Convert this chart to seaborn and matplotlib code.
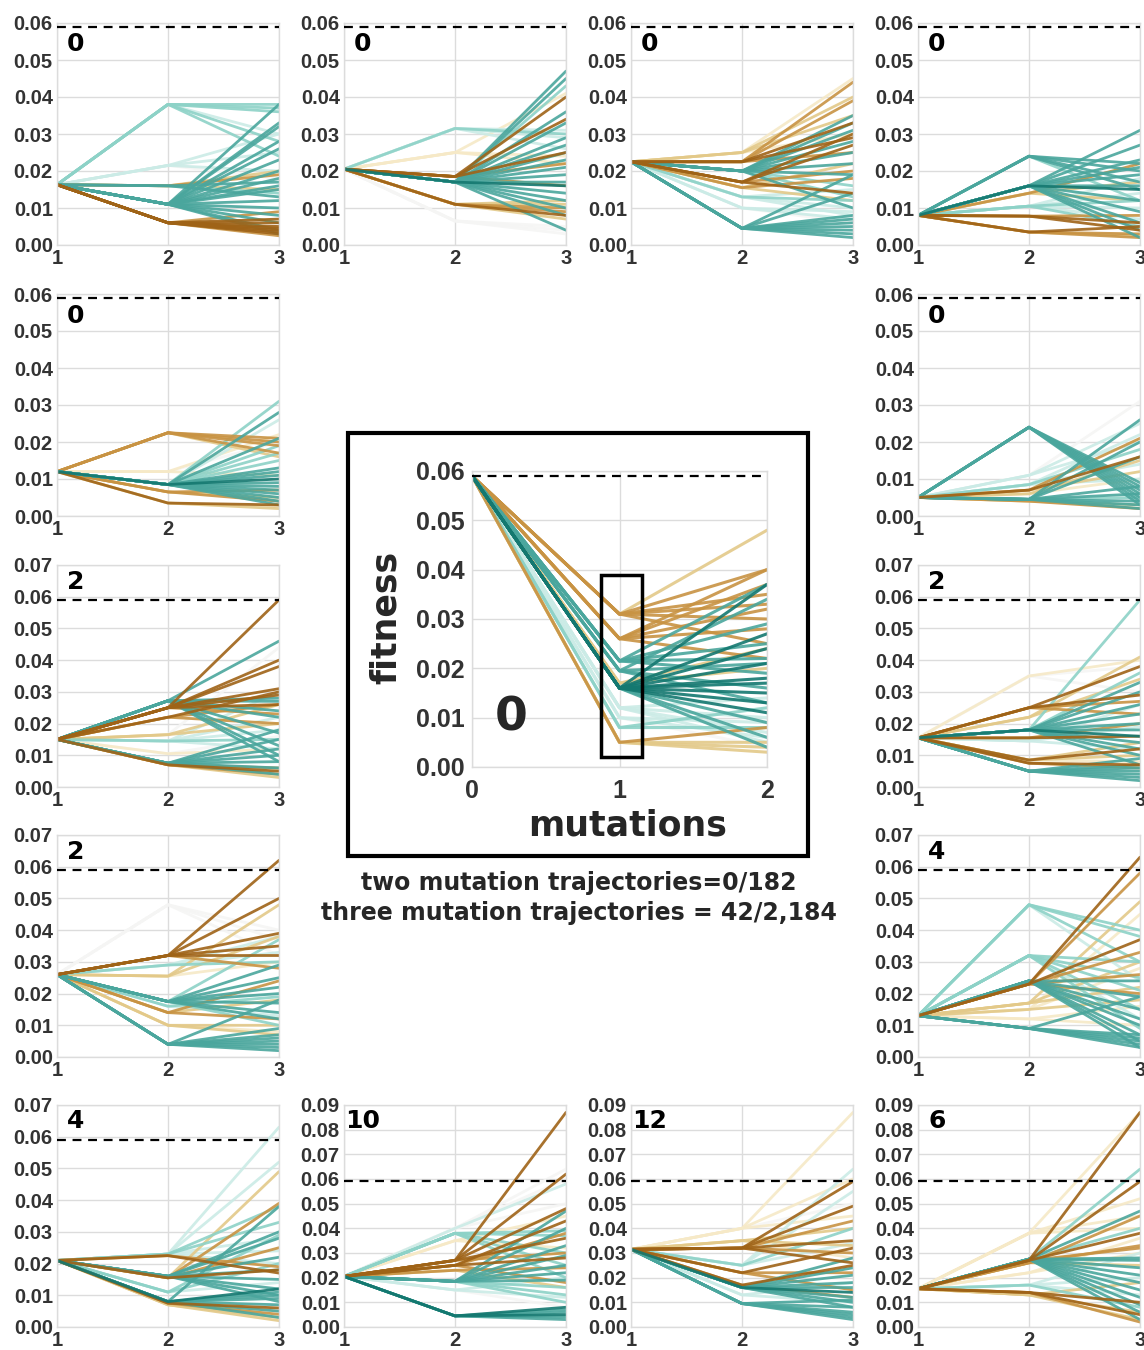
import matplotlib
matplotlib.use("Agg")
import numpy as np
import pandas as pd
import matplotlib.pyplot as plt
import seaborn as sns
from matplotlib.patches import Rectangle

# ---------------- data (fitness after 1, 2, 3 mutations; colour code on BrBG) ----------------
A_start = 0.0163
A_mid = [0.038,0.038,0.038,0.038,0.038,0.038, 0.0215,0.0215,0.0215,0.0215,
         0.016,0.016,0.016,0.016,0.016,0.016,
         0.011,0.011,0.011,0.011,0.011,0.011,0.011,0.011,0.011,0.011,0.011,0.011,0.011,0.011,0.011,0.011,
         0.006,0.006,0.006,0.006,0.006,0.006,0.006,0.006,0.006]
A_end = [0.038,0.037,0.036,0.028,0.024,0.030, 0.030,0.025,0.020,0.018,
         0.020,0.019,0.015,0.013,0.014,0.017,
         0.038,0.033,0.032,0.028,0.026,0.023,0.020,0.018,0.016,0.015,0.012,0.010,0.008,0.006,0.004,0.003,
         0.007,0.006,0.005,0.004,0.0045,0.0035,0.003,0.0025,0.009]
A_col = [7,7,7,7,7,6, 6,6,6,5, 3,2,3,8,7,8,
         8,8,8,8,8,8,8,8,8,8,8,8,8,8,8,8,
         1,1,1,1,1,1,1,2,2]

B_start = 0.0205
B_mid = [0.0315,0.0315,0.0315,0.0315, 0.025,0.025,0.025, 0.0185,0.0185,0.0185,0.0185,0.0185,
         0.017,0.017,0.017,0.017,0.017,0.017,0.017,0.017,0.017,0.017,0.017,0.017,0.017,0.017,0.017,0.017,0.017,0.017,
         0.011,0.011,0.011,0.011,0.011,0.011, 0.0065,0.0065,0.0065]
B_end = [0.031,0.030,0.029,0.026, 0.041,0.024,0.022, 0.034,0.040,0.025,0.016,0.022,
         0.047,0.045,0.043,0.036,0.033,0.029,0.027,0.025,0.023,0.021,0.019,0.017,0.016,0.014,0.012,0.010,0.008,0.004,
         0.012,0.010,0.009,0.008,0.007,0.011, 0.005,0.004,0.003]
B_col = [6,7,6,6, 4,4,4, 1,1,1,2,2,
         8,8,7,8,8,8,8,8,8,8,8,8,9,8,8,8,8,8,
         3,2,2,1,3,3, 5,5,5]

C_start = 0.0225
C_mid = [0.025,0.025,0.025,0.025, 0.0225,0.0225,0.0225,0.0225,0.0225, 0.017,0.017,0.017,0.017,
         0.0155,0.0155,0.0155, 0.020,0.020,0.020,0.020,0.020,0.020,0.020,0.020,0.020,0.020,
         0.013,0.013,0.013,0.013, 0.010,0.010,0.010,
         0.0045,0.0045,0.0045,0.0045,0.0045,0.0045,0.0045,0.0045,0.0045]
C_end = [0.045,0.040,0.030,0.035, 0.044,0.039,0.033,0.029,0.025, 0.030,0.027,0.020,0.014,
         0.022,0.018,0.012, 0.035,0.033,0.031,0.028,0.025,0.022,0.019,0.016,0.013,0.010,
         0.015,0.010,0.008,0.012, 0.009,0.007,0.006,
         0.019,0.014,0.008,0.007,0.006,0.005,0.004,0.003,0.002]
C_col = [4,3,4,3, 2,2,1,1,2, 1,1,2,1, 3,2,3, 8,8,8,8,8,8,8,7,7,8,
         6,6,6,7, 6,6,5, 8,8,8,8,8,8,8,8,8]

D_start = 0.008
D_mid = [0.024,0.024,0.024,0.024,0.024,
         0.016,0.016,0.016,0.016,0.016,0.016,0.016,0.016,0.016,0.016,0.016,0.016,
         0.014,0.014,0.014, 0.0105,0.0105,0.0105,0.0105,0.0105,0.0105,
         0.0078,0.0078,0.0078, 0.0035,0.0035,0.0035,0.0035]
D_end = [0.022,0.020,0.017,0.015,0.012,
         0.031,0.027,0.023,0.021,0.019,0.016,0.015,0.012,0.009,0.006,0.004,0.002,
         0.022,0.017,0.012, 0.018,0.014,0.010,0.007,0.005,0.012,
         0.006,0.004,0.008, 0.005,0.003,0.002,0.0025]
D_col = [8,8,8,8,7, 8,8,8,8,8,8,9,8,8,8,8,8, 2,3,3, 6,6,6,6,7,7, 1,1,2, 1,2,2,3]

E_start = 0.012
E_mid = [0.0225,0.0225,0.0225,0.0225,0.0225, 0.012,0.012,0.012,
         0.0085,0.0085,0.0085,0.0085,0.0085,0.0085,0.0085,0.0085,0.0085,0.0085,0.0085,0.0085,0.0085,0.0085,0.0085,0.0085,0.0085,0.0085,
         0.0065,0.0065,0.0065, 0.0035,0.0035,0.0035]
E_end = [0.021,0.019,0.017,0.016,0.020, 0.022,0.020,0.011,
         0.031,0.028,0.026,0.021,0.019,0.017,0.015,0.013,0.012,0.011,0.010,0.009,0.008,0.007,0.006,0.005,0.004,0.003,
         0.007,0.005,0.004, 0.003,0.002,0.0025]
E_col = [2,2,2,3,2, 4,5,4, 7,8,6,8,7,7,7,8,8,8,9,8,8,8,8,8,8,8, 2,3,2, 1,3,4]

F_start = 0.005
F_mid = [0.024,0.024,0.024,0.024,0.024,0.024,0.024, 0.011,0.011,0.011, 0.0085,0.0085,0.0085,0.0085,
         0.007,0.007,0.007, 0.006,0.006,
         0.0045,0.0045,0.0045,0.0045,0.0045,0.0045,0.0045,0.0045,0.0045, 0.004,0.004]
F_end = [0.009,0.008,0.007,0.006,0.005,0.004,0.003, 0.031,0.025,0.020, 0.022,0.018,0.014,0.010,
         0.016,0.021,0.012, 0.015,0.010,
         0.026,0.020,0.016,0.008,0.006,0.005,0.004,0.003,0.002, 0.003,0.002]
F_col = [8,8,8,8,8,8,8, 5,6,6, 6,7,6,6, 1,2,3, 3,4, 8,8,8,8,8,7,8,8,8, 3,2]

G_start = 0.015
G_mid = [0.0272,0.0272,0.0272,0.0272,0.0272,0.0272,0.0272,0.0272,0.0272,
         0.025,0.025,0.025,0.025,0.025,0.025,0.025, 0.022,0.022,0.022, 0.0165,0.0165,0.0165,
         0.0145,0.0145,0.0145,0.0145,0.0145, 0.0105,0.0105,
         0.0075,0.0075,0.0075,0.0075,0.0075,0.0075,0.0075, 0.007,0.007,0.007,0.007]
G_end = [0.046,0.028,0.027,0.024,0.022,0.017,0.013,0.010,0.008,
         0.059,0.040,0.038,0.031,0.029,0.026,0.023, 0.030,0.020,0.026, 0.044,0.026,0.020,
         0.030,0.022,0.018,0.015,0.012, 0.016,0.012,
         0.018,0.015,0.012,0.010,0.008,0.006,0.004, 0.006,0.004,0.003,0.005]
G_col = [8,8,8,8,8,8,8,8,8, 1,1,1,1,1,1,2, 1,2,2, 5,3,3, 6,6,6,7,6, 5,4,
         8,8,8,8,8,8,8, 2,2,3,1]

H_start = 0.0155
H_mid = [0.035,0.035,0.035, 0.025,0.025,0.025,0.025, 0.022,0.022,
         0.018,0.018,0.018,0.018,0.018,0.018,0.018,0.018,0.018,0.018,0.018,0.018,0.018,
         0.0155,0.0155, 0.0145,0.0145,0.0145, 0.0085,0.0085,0.0085,0.0085, 0.0075,0.0075,
         0.005,0.005,0.005,0.005,0.005,0.005,0.005]
H_end = [0.040,0.038,0.030, 0.038,0.029,0.023,0.027, 0.041,0.034,
         0.059,0.036,0.033,0.030,0.026,0.023,0.020,0.018,0.016,0.014,0.012,0.010,0.007,
         0.016,0.020, 0.026,0.019,0.012, 0.014,0.010,0.008,0.012, 0.007,0.006,
         0.009,0.007,0.006,0.005,0.004,0.003,0.002]
H_col = [4,5,5, 1,1,2,2, 3,3, 7,7,8,8,8,8,8,8,9,8,8,8,8, 1,2, 6,6,6, 3,3,4,1, 1,2,
         8,8,8,8,8,8,8]

I_start = 0.026
I_mid = [0.048,0.048,0.048, 0.032,0.032,0.032,0.032,0.032,0.032, 0.029,0.029,0.029,
         0.0255,0.0255,0.0255, 0.0175,0.0175,0.0175,0.0175,0.0175,0.0175,0.0175,0.0175,0.0175,
         0.016,0.016, 0.014,0.014,0.014, 0.010,0.010,0.010,
         0.004,0.004,0.004,0.004,0.004,0.004,0.004,0.004]
I_end = [0.040,0.037,0.032, 0.062,0.050,0.039,0.035,0.032,0.028, 0.038,0.033,0.030,
         0.048,0.038,0.030, 0.037,0.029,0.025,0.022,0.020,0.017,0.014,0.012,0.010,
         0.019,0.013, 0.024,0.018,0.012, 0.010,0.007,0.008,
         0.018,0.009,0.007,0.006,0.005,0.004,0.003,0.002]
I_col = [5,5,5, 1,1,1,1,1,2, 6,6,7, 3,3,4, 7,8,8,8,8,8,8,8,7, 7,6, 2,3,2, 3,3,4,
         8,8,8,8,8,8,8,8]

J_start = 0.013
J_mid = [0.048,0.048,0.048,0.048, 0.032,0.032,0.032,0.032,0.032,0.032,
         0.024,0.024,0.024,0.024,0.024,0.024,0.024,0.024, 0.023,0.023,0.023,0.023,0.023,0.023,
         0.017,0.017,0.017, 0.015,0.015,0.015, 0.012,0.012,
         0.009,0.009,0.009,0.009,0.009,0.009]
J_end = [0.040,0.038,0.030,0.024, 0.030,0.025,0.021,0.015,0.012,0.009,
         0.024,0.019,0.015,0.012,0.010,0.007,0.005,0.003, 0.063,0.058,0.037,0.033,0.026,0.020,
         0.049,0.030,0.022, 0.045,0.028,0.018, 0.016,0.010,
         0.019,0.007,0.006,0.005,0.004,0.003]
J_col = [7,7,7,6, 7,7,7,7,6,7, 8,8,8,8,8,8,8,8, 1,2,1,2,2,2, 3,3,3, 4,4,3, 4,4,
         8,8,8,8,8,8]

K_start = 0.021
K_mid = [0.023,0.023,0.023,0.023,0.023,0.023,0.023, 0.0225,0.0225,
         0.016,0.016,0.016,0.016,0.016,0.016,0.016,0.016, 0.0155,0.0155,0.0155,0.0155,
         0.011,0.011,0.011, 0.008,0.008,0.008,0.008,0.008,0.008,0.008,0.008,
         0.0075,0.0075, 0.007,0.007,0.007]
K_end = [0.063,0.052,0.038,0.033,0.028,0.024,0.020, 0.017,0.019,
         0.030,0.028,0.022,0.018,0.015,0.012,0.010,0.008, 0.049,0.039,0.025,0.018,
         0.029,0.020,0.014, 0.038,0.012,0.011,0.010,0.009,0.007,0.005,0.003,
         0.006,0.004, 0.003,0.002,0.005]
K_col = [6,6,7,7,6,6,6, 1,2, 8,8,8,8,8,8,8,8, 3,2,2,1, 7,7,6, 8,9,8,8,8,8,8,8,
         1,2, 3,3,4]

L_start = 0.0205
L_mid = [0.040,0.040,0.040,0.040, 0.038,0.038,0.038,0.038,0.038, 0.035,0.035,
         0.027,0.027,0.027,0.027,0.027, 0.025,0.025,0.025,0.025, 0.023,0.023,
         0.0185,0.0185,0.0185,0.0185,0.0185,0.0185,0.0185,0.0185,0.0185,0.0185,
         0.015,0.015,0.015, 0.0045,0.0045,0.0045,0.0045,0.0045,0.0045]
L_end = [0.064,0.060,0.058,0.050, 0.039,0.037,0.030,0.025,0.020, 0.045,0.032,
         0.087,0.062,0.048,0.036,0.030, 0.043,0.038,0.028,0.018, 0.024,0.016,
         0.047,0.040,0.033,0.029,0.025,0.022,0.019,0.016,0.013,0.010,
         0.020,0.012,0.008, 0.008,0.007,0.006,0.005,0.004,0.003]
L_col = [5,5,6,5, 7,7,7,7,7, 4,4, 1,1,1,1,2, 1,2,1,2, 2,3,
         8,8,8,8,8,8,8,7,7,7, 6,6,5, 9,8,8,9,8,8]

M_start = 0.0315
M_mid = [0.040,0.040,0.040,0.040, 0.035,0.035,0.035, 0.032,0.032,0.032,0.032,0.032,0.032,
         0.025,0.025,0.025,0.025, 0.022,0.022,0.022, 0.017,0.017,
         0.016,0.016,0.016,0.016,0.016,0.016,0.016,0.016,0.016, 0.013,0.013,
         0.0095,0.0095,0.0095,0.0095,0.0095,0.0095]
M_end = [0.087,0.060,0.050,0.045, 0.040,0.033,0.028, 0.059,0.049,0.043,0.035,0.030,0.026,
         0.064,0.055,0.040,0.034, 0.032,0.022,0.015, 0.025,0.012,
         0.028,0.024,0.021,0.018,0.016,0.014,0.012,0.010,0.008, 0.018,0.010,
         0.011,0.008,0.006,0.005,0.004,0.003]
M_col = [4,4,5,4, 3,3,4, 1,1,2,1,2,1, 6,6,7,6, 1,2,2, 1,2,
         8,8,8,8,8,9,8,8,8, 6,6, 8,8,8,8,8,8]

N_start = 0.0155
N_mid = [0.038,0.038,0.038,0.038,
         0.0275,0.0275,0.0275,0.0275,0.0275,0.0275,0.0275,0.0275,0.0275,0.0275,0.0275,0.0275,0.0275,
         0.027,0.027,0.027,0.027, 0.026,0.026,0.026, 0.022,0.022,
         0.017,0.017,0.017,0.017, 0.014,0.014,0.014, 0.013,0.013,0.013]
N_end = [0.087,0.052,0.045,0.040,
         0.064,0.047,0.040,0.028,0.027,0.024,0.021,0.018,0.015,0.012,0.009,0.006,0.003,
         0.087,0.059,0.038,0.032, 0.045,0.033,0.025, 0.036,0.030,
         0.030,0.020,0.013,0.008, 0.010,0.005,0.002, 0.018,0.006,0.003]
N_col = [4,4,4,4, 7,8,7,8,8,8,8,8,8,8,8,8,8, 1,1,1,2, 2,2,3, 4,4,
         6,6,6,7, 1,1,2, 3,3,3]

# centre (0, 1, 2 mutations)
Z_start = 0.059
Z_mid = [0.031,0.031,0.031,0.031,0.031,0.031, 0.026,0.026,0.026,0.026,0.026,
         0.0215,0.0215,0.0215,0.0215,0.0215, 0.0195,0.0195,0.0195,0.0195,
         0.016,0.016,0.016,0.016,0.016,0.016,0.016,0.016,0.016,0.016,0.016,0.016,
         0.012,0.012,0.012,0.012, 0.010,0.010,0.010, 0.008,0.008,
         0.005,0.005,0.005,0.005, 0.017,0.017]
Z_end = [0.040,0.048,0.035,0.033,0.030,0.025, 0.040,0.037,0.032,0.028,0.022,
         0.037,0.029,0.025,0.022,0.019, 0.034,0.021,0.016,0.013,
         0.037,0.027,0.024,0.021,0.018,0.017,0.015,0.013,0.011,0.009,0.006,0.004,
         0.014,0.010,0.007,0.005, 0.009,0.006,0.004, 0.012,0.008,
         0.005,0.004,0.003,0.008, 0.024,0.020]
Z_col = [2,3,2,2,2,2, 2,2,2,2,2, 8,8,8,8,8, 8,8,8,8,
         9,9,9,9,9,9,9,9,9,8,8,8, 6,6,6,6, 6,6,5, 7,7, 3,3,3,2, 3,3]

panel_labels = ["0", "0", "0", "0", "0", "0", "2", "2", "2", "4", "4", "10", "12", "6"]
WT_FITNESS = 0.059
center_text = ["two mutation trajectories=0/182", "three mutation trajectories = 42/2,184"]

# ---------------- style ----------------
sns.set_theme(style="whitegrid")
plt.rcParams['font.family'] = ['Liberation Sans', 'DejaVu Sans']

W, H = 1144, 1350
fig = plt.figure(figsize=(W / 100, H / 100), dpi=100)
fig.patch.set_facecolor("white")

cmap = matplotlib.colormaps["BrBG"]
pal_dict = {c: cmap(0.05 + c * 0.09) for c in range(11)}
draw_order = [5, 4, 6, 3, 7, 2, 8, 1, 9]


def make_df(start, mids, ends, cols, x0):
    rows = []
    for i, (m, e, c) in enumerate(zip(mids, ends, cols)):
        for k, v in enumerate((start, m, e)):
            rows.append(dict(traj=i, step=x0 + k, fitness=v, code=c))
    return pd.DataFrame(rows)


def px_axes(left, top, w, h):
    return fig.add_axes([left / W, 1 - (top + h) / H, w / W, h / H])


def style_axes(ax, xlim, ymax, fs, pad, xpad):
    ax.set_xlim(*xlim)
    ax.set_ylim(0, ymax)
    ax.set_xticks([xlim[0], (xlim[0] + xlim[1]) / 2, xlim[1]])
    ax.set_xticklabels([str(int(v)) for v in ax.get_xticks()])
    yt = np.round(np.arange(0, ymax + 1e-9, 0.01), 2)
    ax.set_yticks(yt)
    ax.set_yticklabels([f"{v:.2f}" for v in yt])
    ax.tick_params(axis="y", labelsize=fs, pad=pad, colors="#333333", length=0)
    ax.tick_params(axis="x", labelsize=fs, pad=xpad, colors="#333333", length=0)
    for t in ax.get_xticklabels() + ax.get_yticklabels():
        t.set_fontweight("bold")
    ax.set_xlabel("")
    ax.set_ylabel("")
    ax.grid(True, color="#dcdcdc", lw=1)
    for s in ax.spines.values():
        s.set_color("#dcdcdc")
        s.set_linewidth(1)


def draw_lines(ax, df, lw):
    present = [c for c in draw_order if c in set(df["code"])]
    sns.lineplot(data=df, x="step", y="fitness", units="traj", estimator=None,
                 hue="code", hue_order=present, palette=pal_dict, legend=False,
                 lw=lw, alpha=0.9, sort=False, ax=ax)
    ax.axhline(WT_FITNESS, color="black", ls=(0, (4, 3)), lw=1.6, zorder=4)


panels = [
    (A_start, A_mid, A_end, A_col, 0, 0, 0.06),
    (B_start, B_mid, B_end, B_col, 1, 0, 0.06),
    (C_start, C_mid, C_end, C_col, 2, 0, 0.06),
    (D_start, D_mid, D_end, D_col, 3, 0, 0.06),
    (E_start, E_mid, E_end, E_col, 0, 1, 0.06),
    (F_start, F_mid, F_end, F_col, 3, 1, 0.06),
    (G_start, G_mid, G_end, G_col, 0, 2, 0.07),
    (H_start, H_mid, H_end, H_col, 3, 2, 0.07),
    (I_start, I_mid, I_end, I_col, 0, 3, 0.07),
    (J_start, J_mid, J_end, J_col, 3, 3, 0.07),
    (K_start, K_mid, K_end, K_col, 0, 4, 0.07),
    (L_start, L_mid, L_end, L_col, 1, 4, 0.09),
    (M_start, M_mid, M_end, M_col, 2, 4, 0.09),
    (N_start, N_mid, N_end, N_col, 3, 4, 0.09),
]
col_left = [57, 344, 631, 918]
row_top = [23, 294, 565, 835, 1105]
label_y = [0.905, 0.9, 0.923, 0.923, 0.93]

for (st, mid, end, col, ci, ri, ymax), lab in zip(panels, panel_labels):
    ax = px_axes(col_left[ci], row_top[ri], 222, 222)
    df = make_df(st, mid, end, col, 1)
    draw_lines(ax, df, 2.0)
    style_axes(ax, (1, 3), ymax, 14.5, 3, 3)
    ax.text(0.085, label_y[ri], lab, transform=ax.transAxes, ha="center", va="center",
            fontsize=18, fontweight="bold", family="DejaVu Sans", color="black", zorder=6)

# centre panel
axc = px_axes(472, 471, 295, 296)
dfz = make_df(Z_start, Z_mid, Z_end, Z_col, 0)
draw_lines(axc, dfz, 2.2)
style_axes(axc, (0, 2), 0.06, 18, 5, 9)
axc.add_patch(Rectangle((0.875, 0.002), 0.278, 0.037, fill=False, lw=2.5, ec="black", zorder=5))
fig.text(511 / W, 1 - 718 / H, "0", ha="center", va="center", fontsize=34,
         fontweight="bold", family="DejaVu Sans")
fig.text(386 / W, 1 - 617 / H, "fitness", rotation=90, ha="center", va="center",
         fontsize=25, fontweight="bold", family="DejaVu Sans")
fig.text(628 / W, 1 - 826 / H, "mutations", ha="center", va="center",
         fontsize=25, fontweight="bold", family="DejaVu Sans")
fig.add_artist(Rectangle((348 / W, 1 - 856 / H), 460 / W, 423 / H, transform=fig.transFigure,
                         fill=False, lw=3, ec="black"))
fig.text(579 / W, 1 - 883 / H, center_text[0], ha="center", va="center",
         fontsize=17, fontweight="bold", family="DejaVu Sans")
fig.text(579 / W, 1 - 913 / H, center_text[1], ha="center", va="center",
         fontsize=17, fontweight="bold", family="DejaVu Sans")

fig.savefig("out.png", dpi=100, facecolor="white")
